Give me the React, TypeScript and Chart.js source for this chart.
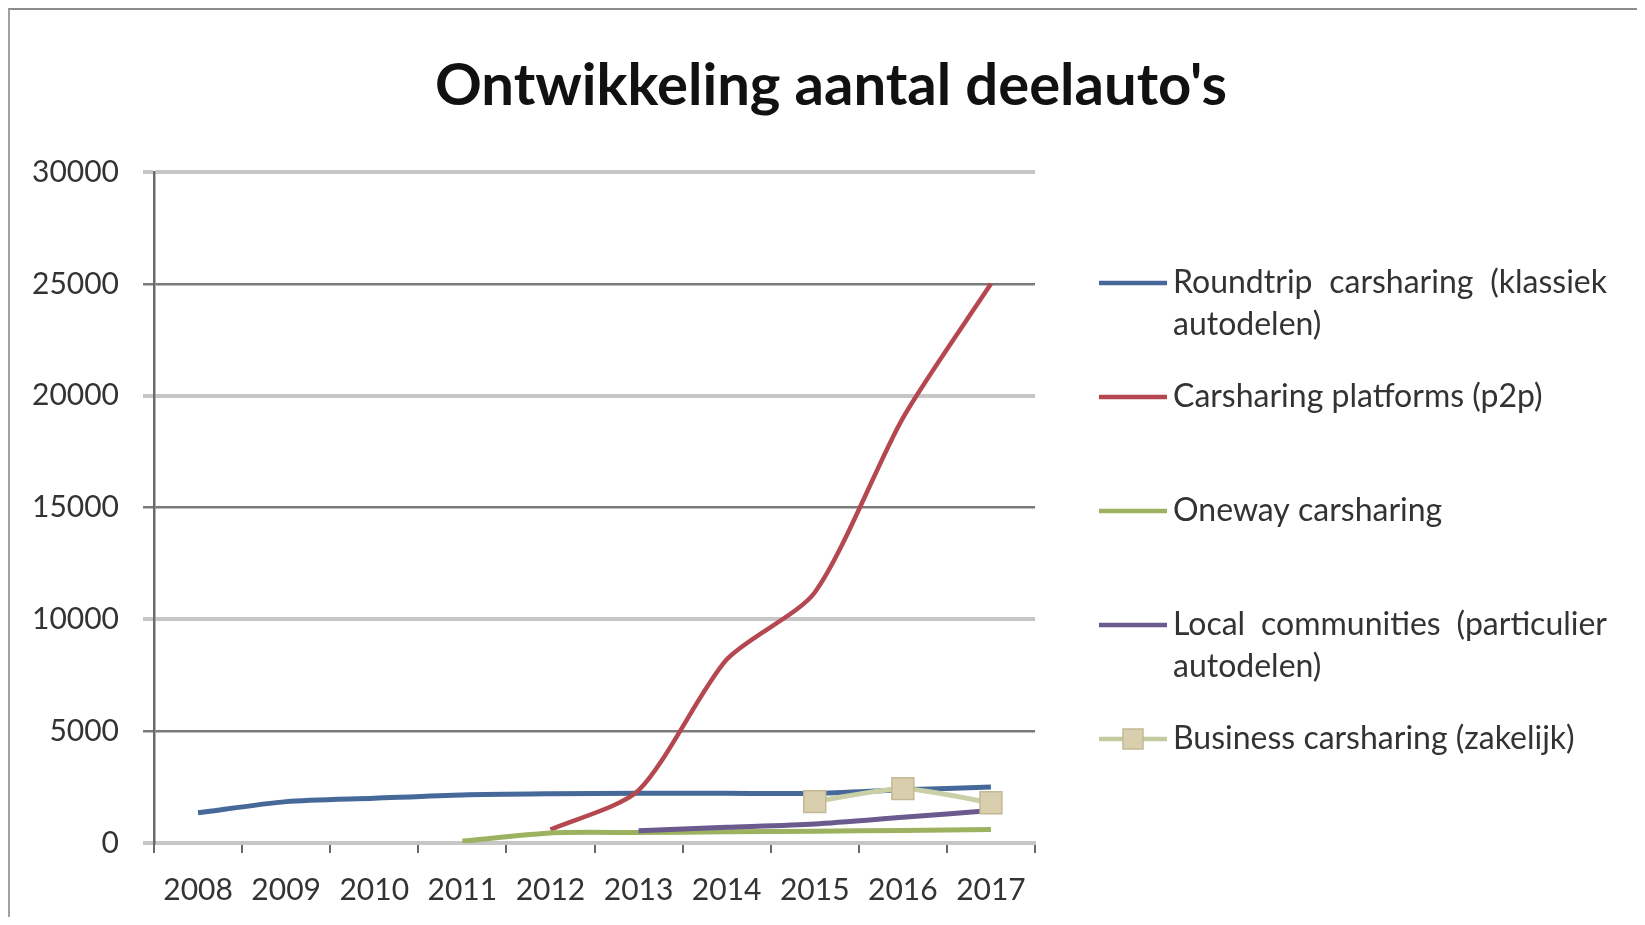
import React, { useEffect, useRef } from 'react';
import { Chart, registerables, Plugin } from 'chart.js';

Chart.register(...registerables);

const years = ['2008', '2009', '2010', '2011', '2012', '2013', '2014', '2015', '2016', '2017'];

const roundtrip = [1350, 1850, 2000, 2150, 2200, 2220, 2220, 2220, 2380, 2500];
const platforms = [null, null, null, null, 600, 2350, 8200, 11200, 19000, 25000];
const oneway = [null, null, null, 80, 450, 470, 500, 530, 560, 600];
const localCommunities = [null, null, null, null, null, 550, 700, 850, 1150, 1450];
const business = [null, null, null, null, null, null, null, 1850, 2430, 1800];

const seriesNames = [
  'Roundtrip carsharing (klassiek autodelen)',
  'Carsharing platforms (p2p)',
  'Oneway carsharing',
  'Local communities (particulier autodelen)',
  'Business carsharing (zakelijk)',
];

const chartTitle = "Ontwikkeling aantal deelauto's";

const yMin = 0;
const yMax = 30000;
const yStep = 5000;

const FONT = 'Lato, "Open Sans", sans-serif';

// title + wrapped (justified) legend, drawn the way Excel lays them out
const excelDecor: Plugin<'line'> = {
  id: 'excelDecor',
  afterDraw(chart) {
    const ctx = chart.ctx;
    const area = chart.chartArea;
    ctx.save();

    ctx.fillStyle = '#111';
    ctx.font = `bold 58px ${FONT}`;
    ctx.textAlign = 'center';
    ctx.textBaseline = 'middle';
    ctx.fillText(chartTitle, 821, 76);

    ctx.font = `32px ${FONT}`;
    ctx.textAlign = 'left';
    const lineStart = area.right + 64;
    const lineEnd = lineStart + 68;
    const textX = lineEnd + 6;
    const maxW = 434;
    const lineH = 42;

    chart.data.datasets.forEach((ds: any, i) => {
      const y0 = 273 + i * 114;

      ctx.strokeStyle = ds.legendColor || ds.borderColor;
      ctx.lineWidth = 4.5;
      ctx.beginPath();
      ctx.moveTo(lineStart, y0);
      ctx.lineTo(lineEnd, y0);
      ctx.stroke();
      if (ds.pointRadius > 0) {
        const s = 10;
        const mx = (lineStart + lineEnd) / 2;
        ctx.fillStyle = ds.pointBackgroundColor;
        ctx.fillRect(mx - s, y0 - s, 2 * s, 2 * s);
        ctx.strokeStyle = ds.pointBorderColor;
        ctx.lineWidth = 1.5;
        ctx.strokeRect(mx - s, y0 - s, 2 * s, 2 * s);
      }

      // wrap words
      const words = String(ds.label).split(' ');
      const lines: string[][] = [];
      let cur: string[] = [];
      words.forEach((w) => {
        const test = [...cur, w].join(' ');
        if (cur.length && ctx.measureText(test).width > maxW) {
          lines.push(cur);
          cur = [w];
        } else {
          cur.push(w);
        }
      });
      if (cur.length) lines.push(cur);

      ctx.fillStyle = '#333';
      lines.forEach((ws, li) => {
        const y = y0 + li * lineH;
        const last = li === lines.length - 1;
        if (last || ws.length < 2) {
          ctx.fillText(ws.join(' '), textX, y);
          return;
        }
        const wordsW = ws.reduce((a, w) => a + ctx.measureText(w).width, 0);
        const gap = (maxW - wordsW) / (ws.length - 1);
        let x = textX;
        ws.forEach((w) => {
          ctx.fillText(w, x, y);
          x += ctx.measureText(w).width + gap;
        });
      });
    });

    ctx.restore();
  },
};

const App: React.FC = () => {
  const canvasRef = useRef<HTMLCanvasElement>(null);
  const chartRef = useRef<Chart | null>(null);

  useEffect(() => {
    if (!canvasRef.current) return;
    if (chartRef.current) chartRef.current.destroy();

    const noPoint = { pointRadius: 0, pointHoverRadius: 0 };

    chartRef.current = new Chart(canvasRef.current, {
      type: 'line',
      data: {
        labels: years,
        datasets: [
          {
            label: seriesNames[0],
            data: roundtrip,
            borderColor: '#46699a',
            borderWidth: 5,
            order: 5,
            ...noPoint,
          },
          {
            label: seriesNames[1],
            data: platforms,
            borderColor: '#b4474f',
            borderWidth: 4.5,
            order: 4,
            ...noPoint,
          },
          {
            label: seriesNames[2],
            data: oneway,
            borderColor: '#9cb261',
            borderWidth: 5,
            order: 3,
            ...noPoint,
          },
          {
            label: seriesNames[3],
            data: localCommunities,
            borderColor: '#6a5a8e',
            borderWidth: 5,
            order: 2,
            ...noPoint,
          },
          {
            label: seriesNames[4],
            data: business,
            borderColor: '#c9cfa6',
            legendColor: '#c3cba0',
            borderWidth: 5,
            order: 1,
            pointStyle: 'rect',
            pointRadius: 15.5,
            pointHoverRadius: 15.5,
            pointBackgroundColor: '#d9cfae',
            pointBorderColor: '#c2b993',
            pointBorderWidth: 1.5,
          } as any,
        ],
      },
      options: {
        animation: false,
        responsive: true,
        maintainAspectRatio: false,
        events: [],
        elements: { line: { tension: 0.25 } },
        layout: { padding: { top: 162, right: 602, left: 0, bottom: 0 } },
        plugins: {
          legend: { display: false },
          title: { display: false },
          tooltip: { enabled: false },
        },
        scales: {
          x: {
            offset: true,
            afterFit: (s) => {
              s.height = 74;
            },
            grid: {
              display: true,
              offset: true,
              drawOnChartArea: false,
              drawTicks: true,
              tickLength: 10,
              color: '#6a6a6a',
              lineWidth: 2,
            },
            border: { display: true, color: '#c6c6c6', width: 4 },
            ticks: {
              padding: 19,
              color: '#333',
              font: { family: FONT, size: 30 },
              maxRotation: 0,
              autoSkip: false,
            },
          },
          y: {
            min: yMin,
            max: yMax,
            afterFit: (s) => {
              s.width = 144;
            },
            grid: {
              drawTicks: true,
              tickLength: 11,
              color: (c) => (c.index % 2 === 0 ? '#c6c6c6' : '#7a7a7a'),
              lineWidth: (c) => (c.index % 2 === 0 ? 4 : 2.5),
            },
            border: { display: true, color: '#6a6a6a', width: 2.5 },
            ticks: {
              stepSize: yStep,
              padding: 24,
              color: '#333',
              font: { family: FONT, size: 30 },
              callback: (v) => String(v),
            },
          },
        },
      },
      plugins: [excelDecor],
    });

    return () => {
      if (chartRef.current) {
        chartRef.current.destroy();
        chartRef.current = null;
      }
    };
  }, []);

  return (
    <div
      style={{
        width: 1629,
        height: 909,
        boxSizing: 'border-box',
        borderTop: '2px solid #8c8c8c',
        borderLeft: '2px solid #a0a0a0',
        background: '#fff',
      }}
    >
      <div style={{ position: 'relative', width: 1627, height: 907 }}>
        <canvas ref={canvasRef} />
      </div>
    </div>
  );
};

export default App;
